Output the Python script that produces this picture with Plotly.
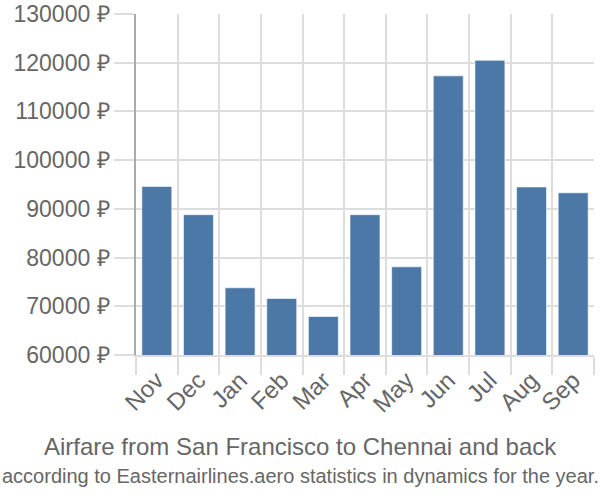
import plotly.graph_objects as go

months = ["Nov", "Dec", "Jan", "Feb", "Mar", "Apr", "May", "Jun", "Jul", "Aug", "Sep"]
prices = [94600, 88800, 73800, 71600, 67900, 88800, 78100, 117300, 120500, 94500, 93300]
y_ticks = [60000, 70000, 80000, 90000, 100000, 110000, 120000, 130000]
y_tick_labels = [f"{v} ₽" for v in y_ticks]
title_text = "Airfare from San Francisco to Chennai and back"
subtitle_text = "according to Easternairlines.aero statistics in dynamics for the year."

font_family = "Liberation Sans, Arial, sans-serif"
grey = "#666666"

W, H = 600, 500
ML, MR, MT, MB = 136, 6, 14, 145
plot_w, plot_h = W - ML - MR, H - MT - MB

def px_to_paper_x(px):
    return (px - ML) / plot_w

def px_to_paper_y(py):
    return 1 - (py - MT) / plot_h

fig = go.Figure(
    go.Bar(
        x=months,
        y=prices,
        marker=dict(color="#4c78a8", line=dict(color="rgba(255,255,255,0.6)", width=1)),
        width=0.72,
    )
)

fig.update_layout(
    width=W,
    height=H,
    margin=dict(l=ML, r=MR, t=MT, b=MB),
    paper_bgcolor="white",
    plot_bgcolor="white",
    showlegend=False,
    font=dict(family=font_family, color=grey),
    annotations=[
        dict(text=title_text, x=px_to_paper_x(300), y=px_to_paper_y(446.5),
             xref="paper", yref="paper",
             xanchor="center", yanchor="middle", showarrow=False,
             font=dict(size=24, color=grey, family=font_family)),
        dict(text=subtitle_text, x=px_to_paper_x(300), y=px_to_paper_y(476.5),
             xref="paper", yref="paper",
             xanchor="center", yanchor="middle", showarrow=False,
             font=dict(size=20, color=grey, family=font_family)),
    ],
)

fig.update_xaxes(
    type="category",
    tickson="boundaries",
    showgrid=True,
    gridcolor="#dddddd",
    gridwidth=1.5,
    ticks="outside",
    ticklen=18,
    tickcolor="#dddddd",
    tickwidth=1.5,
    tickangle=-45,
    tickfont=dict(size=24, color=grey),
    showline=True,
    linecolor="#dddddd",
    linewidth=1.5,
    range=[-0.5, len(months) - 0.5],
    automargin=False,
)

fig.update_yaxes(
    range=[60000, 130000],
    tickvals=y_ticks,
    ticktext=y_tick_labels,
    showgrid=True,
    gridcolor="#dddddd",
    gridwidth=1.5,
    ticks="outside",
    ticklen=20,
    tickcolor="#dddddd",
    tickwidth=1.5,
    tickfont=dict(size=23, color=grey),
    showline=True,
    linecolor="#aaaaaa",
    linewidth=1.5,
    zeroline=False,
    automargin=False,
)

fig.write_html("out.html")
